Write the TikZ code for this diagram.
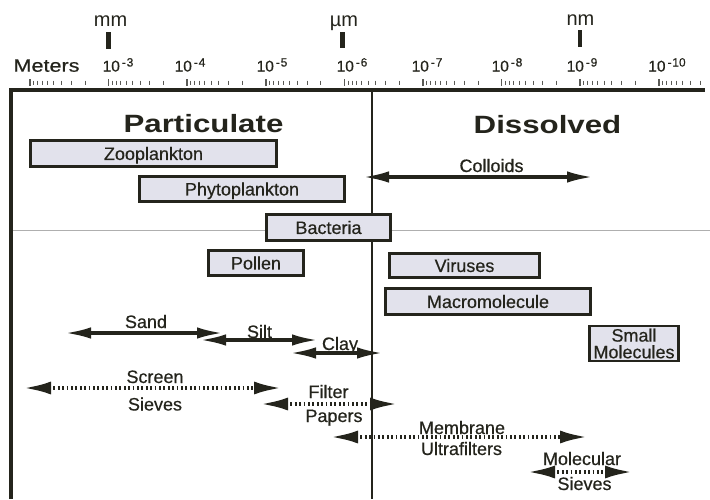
\documentclass[tikz,border=0pt]{standalone}
\usepackage{fontspec}
\setmainfont{Liberation Sans}
\newfontfamily\heavy{Liberation Sans}[FakeBold=0.5]
\usetikzlibrary{arrows.meta}
\definecolor{ink}{RGB}{36,36,28}
\definecolor{boxfill}{RGB}{226,226,236}
\definecolor{tickc}{RGB}{90,90,85}
\definecolor{hline}{RGB}{175,175,175}
\newcommand\decl[1]{\fontsize{15.5}{15.5}\selectfont 10\kern2pt\raisebox{5pt}{\fontsize{12}{12}\selectfont -\kern0.8pt#1}}
\begin{document}
\begin{tikzpicture}[x=1pt,y=-1pt,
  boxbase/.style={draw=ink, line width=2.8pt, fill=boxfill, inner sep=0pt, text=ink},
  box/.style={boxbase, text height=12.9pt, text depth=0pt, font=\heavy\fontsize{18}{18}\selectfont},
  lbl/.style={anchor=base, inner sep=0pt, font=\heavy\fontsize{18}{18}\selectfont, text=ink},
  unit/.style={anchor=base, inner sep=0pt, font=\fontsize{20}{20}\selectfont, text=ink},
  title/.style={anchor=base, inner sep=0pt, font=\fontsize{25}{25}\selectfont\bfseries, text=ink},
  solidarr/.style={draw=ink, line width=3.4pt, {Latex[length=26pt,width=11.5pt]}-{Latex[length=26pt,width=11.5pt]}},
  dotarr/.style={draw=ink, line width=4pt, dash pattern=on 1.7pt off 2.7pt, {Latex[length=28pt,width=13pt]}-{Latex[length=28pt,width=13pt]}},
]
\useasboundingbox (0,0) rectangle (710,499);
\fill[white] (0,0) rectangle (710,499);

% ---- log scale ticks
\foreach \d in {0,...,8}{
  \pgfmathsetmacro\xo{30+78.6*\d}
  \draw[tickc, line width=1.6pt] (\xo,79) -- (\xo,86);
  \foreach \k in {2,...,9}{
    \pgfmathsetmacro\xx{\xo+78.6*log10(10/\k)}
    \draw[tickc, line width=0.7pt] (\xx,80.5) -- (\xx,85);
  }
}

% ---- scale labels
\node[lbl] (meters) at (46.5,71.7) {\scalebox{1.2}[1]{Meters}};
\foreach \x/\e [count=\i] in {118/3,190/4,272/5,352/6,427/7,507/8,582/9,667/10}
  \node[anchor=base, inner sep=0pt, text=ink, font=\heavy] (dec\i) at (\x,71.5) {\decl{\e}};

\node[unit] (mm) at (110.5,26) {mm};
\node[unit] (um) at (344,26) {µm};
\node[unit] (nm) at (580.5,25) {nm};
\fill[ink] (106,32) rectangle (111,48.5);
\fill[ink] (340,32) rectangle (345,48);
\fill[ink] (577.7,30) rectangle (582.3,47);

% ---- frame
\draw[hline, line width=0.8pt] (12,230) -- (710,230);
\draw[ink, line width=4pt, line join=miter] (10.5,499) -- (10.5,90) -- (705,90);
\draw[ink, line width=1.8pt] (372,92) -- (372,499);

% ---- titles
\node[title] (part) at (203.5,132) {\scalebox{1.25}[1]{Particulate}};
\node[title] (diss) at (547.5,133) {\scalebox{1.25}[1]{Dissolved}};

% ---- boxes
\node[box, minimum width=246pt, minimum height=26pt] (zoo) at (153.5,153.5) {Zooplankton\hspace{17pt}};
\node[box, minimum width=205pt, minimum height=25pt] (phyto) at (242,189) {Phytoplankton};
\node[box, minimum width=124pt, minimum height=26pt] (bact) at (328.5,227.5) {Bacteria};
\node[box, minimum width=95pt, minimum height=25pt] (pollen) at (256,263) {Pollen};
\node[box, minimum width=150pt, minimum height=24pt] (virus) at (464.5,265.5) {Viruses};
\node[box, minimum width=205pt, minimum height=26pt] (macro) at (488,301.5) {Macromolecule};
\node[boxbase, minimum width=89pt, minimum height=35pt, align=center, font=\heavy\fontsize{18}{16.7}\selectfont] (small) at (634,343.5) {Small\\Molecules};

% ---- solid arrows
\coordinate (colL) at (363,177);  \coordinate (colR) at (593,177);
\draw[solidarr] (colL) -- (colR);
\node[lbl] (colloids) at (491.5,172) {Colloids};

\coordinate (sandL) at (65,333);  \coordinate (sandR) at (223,333);
\draw[solidarr] (sandL) -- (sandR);
\node[lbl] (sand) at (146,328) {Sand};

\coordinate (siltL) at (200,340);  \coordinate (siltR) at (318,340);
\draw[solidarr] (siltL) -- (siltR);
\node[lbl] (silt) at (259.5,338) {Silt};

\coordinate (clayL) at (290,353);  \coordinate (clayR) at (383,353);
\draw[solidarr] (clayL) -- (clayR);
\node[lbl] (clay) at (340,350) {Clay};

% ---- dotted arrows
\coordinate (scrL) at (23,388);  \coordinate (scrR) at (282,388);
\draw[dotarr] (scrL) -- (scrR);
\node[lbl] (screen) at (155,383) {Screen};
\node[lbl] (sieves1) at (155,410.5) {Sieves};

\coordinate (filL) at (260,404);  \coordinate (filR) at (398,404);
\draw[dotarr] (filL) -- (filR);
\node[lbl] (filter) at (328.5,398) {Filter};
\node[lbl] (papers) at (334,422) {Papers};

\coordinate (memL) at (330,437);  \coordinate (memR) at (588,437);
\draw[dotarr] (memL) -- (memR);
\node[lbl] (membrane) at (462,434) {Membrane};
\node[lbl] (ultra) at (461.5,455) {Ultrafilters};

\coordinate (molL) at (527,472);  \coordinate (molR) at (633,472);
\draw[dotarr] (molL) -- (molR);
\node[lbl] (molecular) at (582,465) {Molecular};
\node[lbl] (sieves2) at (584.5,490) {Sieves};
\end{tikzpicture}
\end{document}
